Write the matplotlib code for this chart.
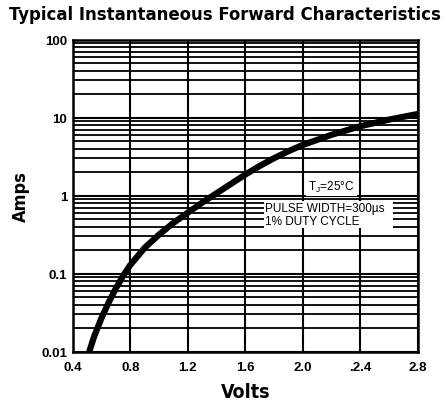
import numpy as np
import matplotlib.pyplot as plt
from matplotlib.ticker import FixedLocator, NullFormatter, LogLocator

# data
volts = [0.515, 0.55, 0.6, 0.65, 0.7, 0.75, 0.8, 0.9, 1.0, 1.1, 1.2, 1.3, 1.4,
         1.5, 1.6, 1.7, 1.8, 1.9, 2.0, 2.2, 2.4, 2.6, 2.8]
amps = [0.01, 0.0158, 0.0269, 0.0427, 0.0646, 0.0933, 0.129, 0.214, 0.316,
        0.447, 0.603, 0.813, 1.072, 1.413, 1.862, 2.399, 3.02, 3.715, 4.467,
        6.026, 7.762, 9.44, 11.14]

x_ticks = [0.4, 0.8, 1.2, 1.6, 2.0, 2.4, 2.8]
x_labels = ["0.4", "0.8", "1.2", "1.6", "2.0", ".2.4", "2.8"]
y_ticks = [0.01, 0.1, 1, 10, 100]
y_labels = ["0.01", "0.1", "1", "10", "100"]

narrow = dict(family=['DejaVu Sans'], fontstretch='condensed', fontweight='bold')
plain = ['Liberation Sans', 'DejaVu Sans']

fig = plt.figure(figsize=(4.46, 4.06), dpi=100)
ax = fig.add_axes([0.163, 0.1313, 0.7737, 0.7686])

ax.set_yscale('log')
ax.set_xlim(0.4, 2.8)
ax.set_ylim(0.01, 100)

# grid: vertical only at majors, horizontal at every 1..9 of each decade
ax.xaxis.set_major_locator(FixedLocator(x_ticks))
ax.set_xticklabels(x_labels, fontsize=9.5, fontweight='bold', family=plain)
ax.yaxis.set_major_locator(FixedLocator(y_ticks))
ax.set_yticklabels(y_labels, fontsize=9.5, fontweight='bold', family=plain)
ax.yaxis.set_minor_locator(LogLocator(base=10, subs=np.arange(2, 10)))
ax.yaxis.set_minor_formatter(NullFormatter())
ax.tick_params(which='both', length=0)
ax.tick_params(axis='x', pad=7)
ax.tick_params(axis='y', pad=4)

ax.grid(True, which='major', axis='both', color='black', linewidth=1.5)
ax.grid(True, which='minor', axis='y', color='black', linewidth=1.3)

for s in ax.spines.values():
    s.set_linewidth(1.8)

# the curve
ax.plot(volts, amps, color='black', linewidth=4.5, solid_joinstyle='round',
        solid_capstyle='butt', zorder=5)

# condition notes with white boxes over the grid
ax.text(2.2, 1.33, r"T$_\mathregular{J}$=25°C", fontsize=8.5, family=plain,
        ha='center', va='center', zorder=6,
        bbox=dict(facecolor='white', edgecolor='none', pad=1.5))
ax.text(1.74, 0.575, "PULSE WIDTH=300µs  \n1% DUTY CYCLE", fontsize=8.5, family=plain,
        ha='left', va='center', linespacing=1.05, zorder=6,
        bbox=dict(facecolor='white', edgecolor='none', pad=1.0))

fig.text(0.505, 0.963, "Typical Instantaneous Forward Characteristics",
         ha='center', va='center', fontsize=13.2, **narrow)
ax.set_xlabel("Volts", fontsize=14, labelpad=6, **narrow)
ax.set_ylabel("Amps", fontsize=13, labelpad=8, **narrow)

fig.savefig("out.png", dpi=100)
